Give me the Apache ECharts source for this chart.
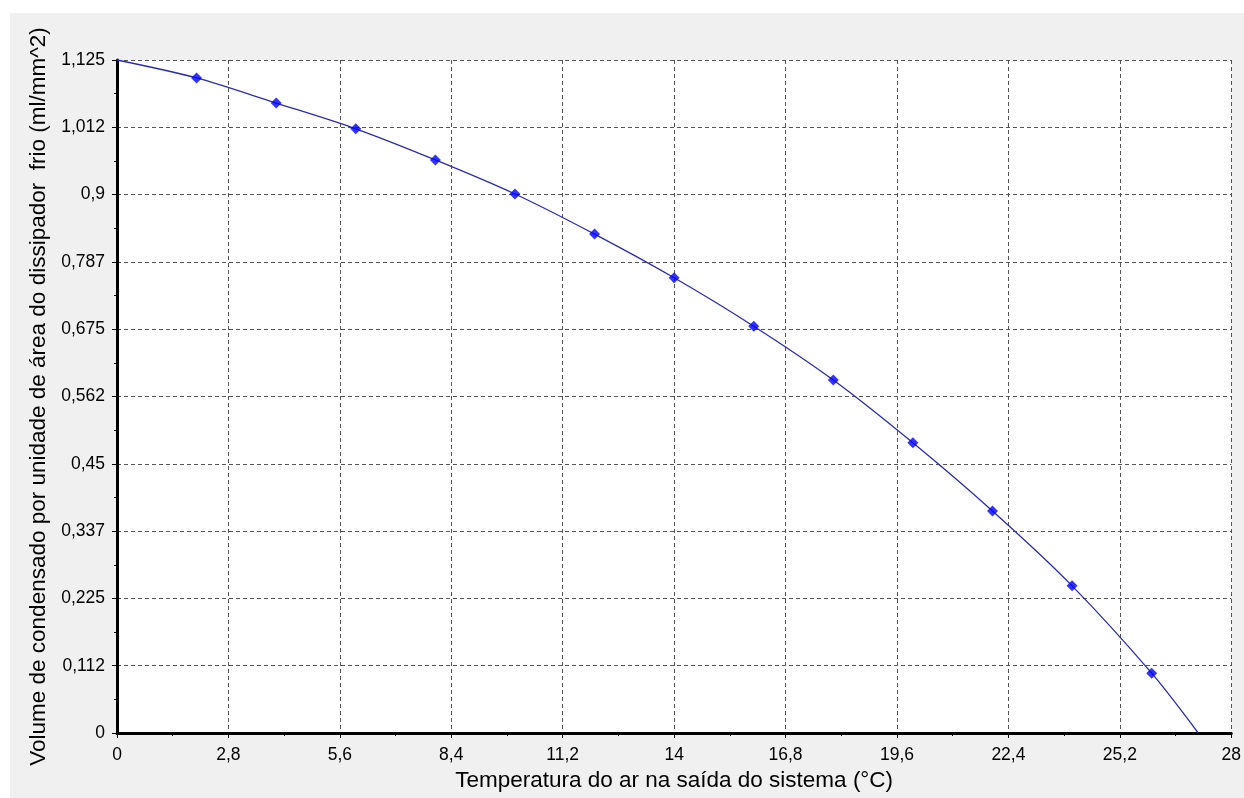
<!DOCTYPE html>
<html>
<head>
<meta charset="utf-8">
<script src="https://cdn.jsdelivr.net/npm/echarts@6/dist/echarts.min.js"></script>
<style>
html,body{margin:0;padding:0;background:#fff;}
#panel{position:absolute;left:10px;top:13px;width:1234px;height:785px;background:#f0f0f0;}
#chart{position:absolute;left:0;top:0;width:1244px;height:798px;}
</style>
</head>
<body>
<div id="panel"></div>
<div id="chart"></div>
<script>
// Measured points (markers)
const xPoints = [2, 4, 6, 8, 10, 12, 14, 16, 18, 20, 22, 24, 26];
const yPoints = [1.095, 1.053, 1.010, 0.958, 0.901, 0.834, 0.761, 0.680, 0.590, 0.485, 0.371, 0.246, 0.100];
// Fitted curve: start and end of the drawn line
const curveStart = [0, 1.125];
const curveEnd = [27.17, 0];
const xTickLabels = ['0', '2,8', '5,6', '8,4', '11,2', '14', '16,8', '19,6', '22,4', '25,2', '28'];
const yTickLabels = ['0', '0,112', '0,225', '0,337', '0,45', '0,562', '0,675', '0,787', '0,9', '1,012', '1,125'];
const xTitle = 'Temperatura do ar na saída do sistema (°C)';
const yTitle = 'Volume de condensado por unidade de área do dissipador  frio (ml/mm^2)';

const xStep = 2.8, yStep = 0.1125;
const scatterData = xPoints.map((x, i) => [x, yPoints[i]]);
const lineData = [curveStart].concat(scatterData, [curveEnd]);

const chart = echarts.init(document.getElementById('chart'), null, {renderer: 'canvas'});
const fontFamily = 'Liberation Sans, Arial, sans-serif';
chart.setOption({
  animation: false,
  backgroundColor: 'transparent',
  grid: {left: 117, top: 60, right: 11, bottom: 65, show: true, backgroundColor: '#ffffff', borderWidth: 0},
  xAxis: {
    type: 'value', min: 0, max: 28, interval: xStep,
    name: xTitle, nameLocation: 'middle', nameGap: 35,
    nameTextStyle: {color: '#000', fontSize: 22.5, fontFamily},
    axisLine: {show: true, onZero: false, lineStyle: {color: '#000', width: 3}},
    axisTick: {show: true, length: 5, lineStyle: {color: '#000'}},
    minorTick: {show: true, splitNumber: 2, length: 3, lineStyle: {color: '#000'}},
    axisLabel: {color: '#000', fontSize: 17.5, fontFamily, margin: 13,
      formatter: v => xTickLabels[Math.round(v / xStep)]},
    splitLine: {show: true, lineStyle: {color: '#555', type: [4, 3], width: 1}}
  },
  yAxis: {
    type: 'value', min: 0, max: 1.125, interval: yStep,
    name: yTitle, nameLocation: 'middle', nameGap: 63, nameRotate: 90,
    nameTextStyle: {color: '#000', fontSize: 22.5, fontFamily},
    axisLine: {show: true, onZero: false, lineStyle: {color: '#000', width: 3}},
    axisTick: {show: true, length: 5, lineStyle: {color: '#000'}},
    minorTick: {show: true, splitNumber: 2, length: 3, lineStyle: {color: '#000'}},
    axisLabel: {color: '#000', fontSize: 17.5, fontFamily, margin: 12,
      formatter: v => yTickLabels[Math.round(v / yStep)]},
    splitLine: {show: true, lineStyle: {color: '#555', type: [4, 3], width: 1}}
  },
  series: [
    {type: 'line', data: lineData, smooth: 0.3, showSymbol: false, symbol: 'none',
     lineStyle: {color: '#2a2ab8', width: 1.3}, z: 2},
    {type: 'scatter', data: scatterData, symbol: 'diamond', symbolSize: 11,
     itemStyle: {color: '#0000ff'}, z: 3}
  ]
});
</script>
</body>
</html>
